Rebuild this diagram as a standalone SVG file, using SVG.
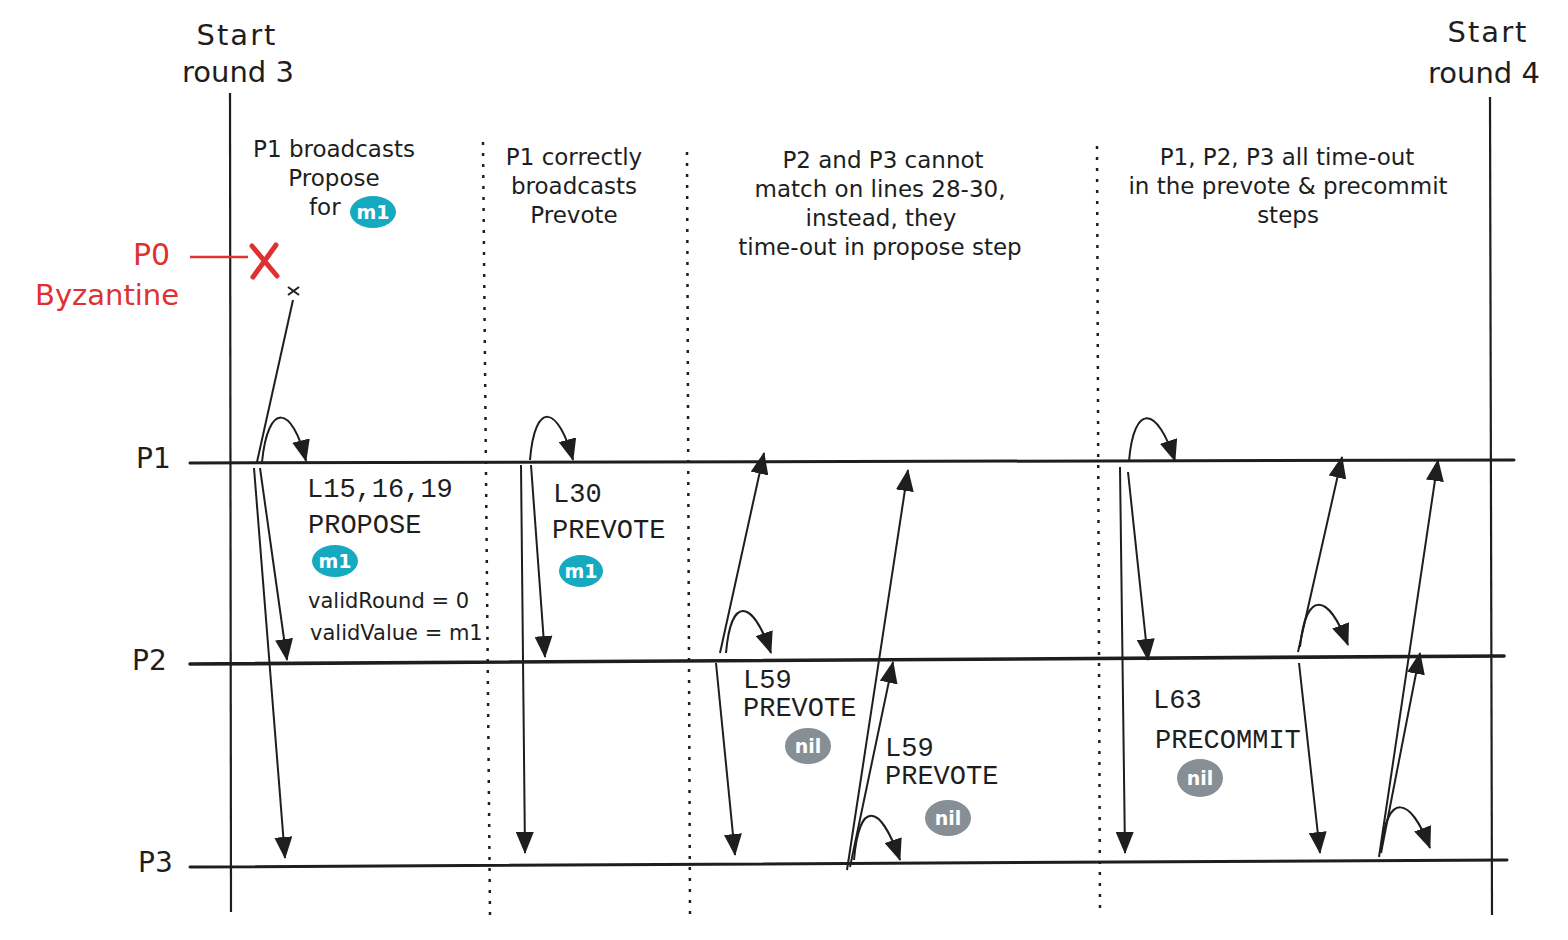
<svg xmlns="http://www.w3.org/2000/svg" width="1568" height="940" viewBox="0 0 1568 940">
<defs>
<marker id="ah" viewBox="0 0 22 18" markerWidth="22" markerHeight="18" refX="21" refY="9" orient="auto" markerUnits="userSpaceOnUse"><path d="M0,0 L22,9 L0,18 Z" fill="#1e1e1e"/></marker>
</defs>
<style>
.hand{font-family:"DejaVu Sans","Noto Sans",sans-serif;fill:#1e1e1e}
.big{font-size:29px}
.body{font-size:23px;text-anchor:middle}
.note{font-size:21px}
.lbl{font-size:28px}
.mono{font-family:"Liberation Mono","DejaVu Sans Mono",monospace;font-size:27px;fill:#1e1e1e}
.red{fill:#e03131}
.lane{stroke:#1e1e1e;stroke-width:3;fill:none;stroke-linecap:round}
.axis{stroke:#1e1e1e;stroke-width:2.2;fill:none}
.dot{stroke:#1e1e1e;stroke-width:2.5;stroke-dasharray:3 8;fill:none}
.msg{stroke:#1e1e1e;stroke-width:2;fill:none;marker-end:url(#ah)}
.plain{stroke:#1e1e1e;stroke-width:2;fill:none}
.bt{fill:#15aabf}
.bg{fill:#868e96}
.btxt{font-family:"DejaVu Sans",sans-serif;font-weight:bold;font-size:19px;fill:#ffffff;text-anchor:middle}
</style>

<g id="background-lines">
  <line class="axis" x1="230" y1="93" x2="231" y2="912"/>
  <line class="axis" x1="1490" y1="97" x2="1492" y2="915"/>
  <line class="dot" x1="483" y1="142" x2="490" y2="915"/>
  <line class="dot" x1="687" y1="152" x2="690" y2="915"/>
  <line class="dot" x1="1097" y1="146" x2="1100" y2="912"/>
  <line class="lane" x1="190" y1="463" x2="1514" y2="460"/>
  <line class="lane" x1="190" y1="664" x2="1504" y2="656" style="stroke-width:3.6"/>
  <line class="lane" x1="190" y1="867" x2="1507" y2="860"/>
</g>

<g id="start-round-3">
  <text class="hand big" x="237" y="45" text-anchor="middle" letter-spacing="2">Start</text>
  <text class="hand big" x="238" y="82" text-anchor="middle">round 3</text>
</g>
<g id="start-round-4">
  <text class="hand big" x="1488" y="42" text-anchor="middle" letter-spacing="2">Start</text>
  <text class="hand big" x="1484" y="83" text-anchor="middle">round 4</text>
</g>

<g id="p0">
  <text class="hand red" x="133" y="265" font-size="30">P0</text>
  <text class="hand red" x="35" y="305" font-size="29">Byzantine</text>
  <line x1="190" y1="257" x2="248" y2="257" stroke="#e03131" stroke-width="2.5"/>
  <path d="M252,246 L277,276 M276,245 L253,277" stroke="#e03131" stroke-width="5" stroke-linecap="round" fill="none"/>
</g>

<g id="p1-label"><text class="hand lbl" x="136" y="468">P1</text></g>
<g id="p2-label"><text class="hand lbl" x="132" y="670">P2</text></g>
<g id="p3-label"><text class="hand lbl" x="138" y="872">P3</text></g>

<g id="note-propose">
  <text class="hand body" x="334" y="157">P1 broadcasts</text>
  <text class="hand body" x="334" y="186">Propose</text>
  <text class="hand" font-size="23" x="309" y="215">for</text>
  <ellipse class="bt" cx="373" cy="212" rx="23" ry="16"/>
  <text class="btxt" x="373" y="219">m1</text>
</g>

<g id="note-prevote">
  <text class="hand body" x="574" y="165">P1 correctly</text>
  <text class="hand body" x="574" y="194">broadcasts</text>
  <text class="hand body" x="574" y="223">Prevote</text>
</g>

<g id="note-timeout-propose">
  <text class="hand body" x="883" y="168">P2 and P3 cannot</text>
  <text class="hand body" x="880" y="197">match on lines 28-30,</text>
  <text class="hand body" x="881" y="226">instead, they</text>
  <text class="hand body" x="880" y="255">time-out in propose step</text>
</g>

<g id="note-timeout-all">
  <text class="hand body" x="1287" y="165">P1, P2, P3 all time-out</text>
  <text class="hand body" x="1288" y="194">in the prevote &amp; precommit</text>
  <text class="hand body" x="1288" y="223">steps</text>
</g>

<g id="label-l15">
  <text class="mono" x="307" y="497">L15,16,19</text>
  <text class="mono" x="308" y="533">PROPOSE</text>
  <ellipse class="bt" cx="335" cy="561" rx="23" ry="16"/>
  <text class="btxt" x="335" y="568">m1</text>
  <text class="hand note" x="308" y="608">validRound = 0</text>
  <text class="hand note" x="310" y="640">validValue = m1</text>
</g>

<g id="label-l30">
  <text class="mono" x="553" y="502">L30</text>
  <text class="mono" x="552" y="538">PREVOTE</text>
  <ellipse class="bt" cx="581" cy="571" rx="22" ry="16"/>
  <text class="btxt" x="581" y="578">m1</text>
</g>

<g id="label-l59-p2">
  <text class="mono" x="743" y="688">L59</text>
  <text class="mono" x="743" y="716">PREVOTE</text>
  <ellipse class="bg" cx="808" cy="746" rx="23" ry="18"/>
  <text class="btxt" x="808" y="753">nil</text>
</g>

<g id="label-l59-p3">
  <text class="mono" x="885" y="756">L59</text>
  <text class="mono" x="885" y="784">PREVOTE</text>
  <ellipse class="bg" cx="948" cy="818" rx="23" ry="18"/>
  <text class="btxt" x="948" y="825">nil</text>
</g>

<g id="label-l63">
  <text class="mono" x="1153" y="708">L63</text>
  <text class="mono" x="1155" y="748">PRECOMMIT</text>
  <ellipse class="bg" cx="1200" cy="778" rx="23" ry="19"/>
  <text class="btxt" x="1200" y="785">nil</text>
</g>

<g id="connectors">
  <path class="plain" d="M288,287 L299,295 M299,287 L288,295"/>
  <path class="plain" d="M293,300 L257,462"/>
  <path class="msg" d="M262,462 C268,402 292,404 306,461"/>
  <path class="msg" d="M260,468 L287,660"/>
  <path class="msg" d="M254,468 L285,858"/>
  <path class="msg" d="M530,460 C535,400 558,405 573,460"/>
  <path class="msg" d="M521,465 L525,853"/>
  <path class="msg" d="M531,465 L545,657"/>
  <path class="msg" d="M720,653 L764,453"/>
  <path class="msg" d="M726,653 C731,596 752,598 771,653"/>
  <path class="msg" d="M716,663 L735,855"/>
  <path class="msg" d="M847,870 L908,470"/>
  <path class="msg" d="M850,867 L893,662"/>
  <path class="msg" d="M854,860 C859,800 880,802 900,860"/>
  <path class="msg" d="M1129,461 C1134,403 1157,405 1175,461"/>
  <path class="msg" d="M1120,467 L1125,853"/>
  <path class="msg" d="M1128,472 L1148,660"/>
  <path class="msg" d="M1298,652 L1342,457"/>
  <path class="msg" d="M1300,647 C1306,590 1328,592 1348,645"/>
  <path class="msg" d="M1299,663 L1320,853"/>
  <path class="msg" d="M1379,857 L1438,460"/>
  <path class="msg" d="M1381,853 L1420,653"/>
  <path class="msg" d="M1381,850 C1387,792 1410,795 1430,848"/>
</g>
</svg>
